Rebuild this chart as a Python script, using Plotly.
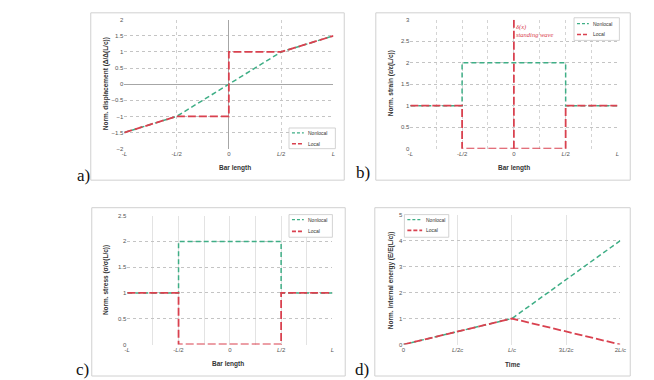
import plotly.graph_objects as go

W, H = 654, 380

# ---------------- data ----------------
# a) displacement
a_x_nonlocal = [-1, -0.5, 0.5, 1]
a_y_nonlocal = [-1.5, -1, 1, 1.5]
a_x_local = [-1, -0.5, 0, 0, 0.5, 1]
a_y_local = [-1.5, -1, -1, 1, 1, 1.5]
# b) strain
b_x_nonlocal = [-1, -0.5, -0.5, 0.5, 0.5, 1]
b_y_nonlocal = [1, 1, 2, 2, 1, 1]
b_x_local = [-1, -0.5, -0.5, 0.5, 0.5, 1]
b_y_local = [1, 1, 0, 0, 1, 1]
b_x_delta = [0, 0]
b_y_delta = [0, 3]
# c) stress
c_x_nonlocal = [-1, -0.5, -0.5, 0.5, 0.5, 1]
c_y_nonlocal = [1, 1, 2, 2, 1, 1]
c_x_local = [-1, -0.5, -0.5, 0.5, 0.5, 1]
c_y_local = [1, 1, 0, 0, 1, 1]
# d) energy (time in units of L/c)
d_x = [0, 1, 2]
d_y_nonlocal = [0, 1, 4]
d_y_local = [0, 1, 0]

bar_tickvals = [-1, -0.75, -0.5, -0.25, 0, 0.25, 0.5, 0.75, 1]
bar_ticktext = ["-<i>L</i>", "", "-<i>L</i>/2", "", "0", "", "<i>L</i>/2", "", "<i>L</i>"]
time_tickvals = [0, 0.5, 1, 1.5, 2]
time_ticktext = ["0", "<i>L</i>/2<i>c</i>", "<i>L</i>/<i>c</i>", "3<i>L</i>/2<i>c</i>", "2<i>L</i>/<i>c</i>"]

GREEN = "#3fae86"
RED = "#d9414f"
FONT = "Liberation Sans"

def px(x):
    return x / W

def py(y):
    return 1 - y / H

fig = go.Figure()

def nl(x, y, xa, ya):
    fig.add_trace(go.Scatter(x=x, y=y, xaxis=xa, yaxis=ya, mode="lines",
                             line=dict(color=GREEN, width=1.5, dash="5px,3px"),
                             name="Nonlocal", showlegend=False, hoverinfo="skip"))

def lo(x, y, xa, ya):
    fig.add_trace(go.Scatter(x=x, y=y, xaxis=xa, yaxis=ya, mode="lines",
                             line=dict(color=RED, width=1.8, dash="8px,3px"),
                             name="Local", showlegend=False, hoverinfo="skip"))

nl(a_x_nonlocal, a_y_nonlocal, "x", "y")
lo(a_x_local, a_y_local, "x", "y")
nl(b_x_nonlocal, b_y_nonlocal, "x2", "y2")
lo(b_x_local, b_y_local, "x2", "y2")
lo(b_x_delta, b_y_delta, "x2", "y2")
nl(c_x_nonlocal, c_y_nonlocal, "x3", "y3")
lo(c_x_local, c_y_local, "x3", "y3")
nl(d_x, d_y_nonlocal, "x4", "y4")
lo(d_x, d_y_local, "x4", "y4")

tickfont = dict(family=FONT, size=6, color="#555")

def xaxis(dom, rng, tv, tt, grid_dash, gcol, anchor, zeroline=False):
    return dict(domain=dom, range=rng, tickvals=tv, ticktext=tt, tickfont=tickfont,
                showgrid=True, gridcolor=gcol, gridwidth=1, griddash=grid_dash,
                zeroline=zeroline, zerolinecolor="#a6a6a6", zerolinewidth=1.2,
                showline=False, ticks="", anchor=anchor, fixedrange=True)

def yaxis(dom, rng, dt, anchor, zeroline=False):
    return dict(domain=dom, range=rng, dtick=dt, tick0=0, tickfont=tickfont,
                showgrid=True, gridcolor="#c4c4c4", gridwidth=1, griddash="dot",
                zeroline=zeroline, zerolinecolor="#a6a6a6", zerolinewidth=1.2,
                showline=False, ticks="", anchor=anchor, fixedrange=True,
                tickformat="~g")

# plot areas (pixel coords)
A = (123, 335, 17, 148)
B = (413, 623, 17, 148)
C = (126, 334, 216, 347)
D = (406, 626, 215, 347)

def dx(p):
    return [px(p[0]), px(p[1])]

def dy(p):
    return [py(p[3]), py(p[2])]

a_tv = [-1, -0.5, 0, 0.5, 1]
a_tt = ["-<i>L</i>", "-<i>L</i>/2", "0", "<i>L</i>/2", "<i>L</i>"]

fig.update_layout(
    width=W, height=H, margin=dict(l=0, r=0, t=0, b=0),
    paper_bgcolor="white", plot_bgcolor="white", showlegend=False,
    font=dict(family=FONT, color="#333"),
    xaxis=xaxis(dx(A), [-1, 1], a_tv, a_tt, "dot", "#cfcfcf", "y", zeroline=True),
    yaxis=yaxis(dy(A), [-2, 2], 0.5, "x", zeroline=True),
    xaxis2=xaxis(dx(B), [-1, 1], bar_tickvals, bar_ticktext, "dot", "#d4d4d4", "y2"),
    yaxis2=yaxis(dy(B), [0, 3], 0.5, "x2"),
    xaxis3=xaxis(dx(C), [-1, 1], bar_tickvals, bar_ticktext, "solid", "#e3e3e3", "y3"),
    yaxis3=yaxis(dy(C), [0, 2.5], 0.5, "x3"),
    xaxis4=xaxis(dx(D), [0, 2], time_tickvals, time_ticktext, "solid", "#e3e3e3", "y4"),
    yaxis4=yaxis(dy(D), [0, 5], 1, "x4"),
)

shapes = []
annotations = []

# panel frames
for (x0, y0, x1, y1) in [(89, 10, 346, 180), (378, 10, 636, 180),
                         (90, 208, 347, 379), (377, 208, 636, 379)]:
    shapes.append(dict(type="rect", xref="paper", yref="paper",
                       x0=px(x0), x1=px(x1), y0=py(y1), y1=py(y0),
                       line=dict(color="#d0d0d0", width=1), fillcolor="rgba(0,0,0,0)",
                       layer="below"))

# panel labels
for txt, x, y in [("a)", 82, 175), ("b)", 365, 172), ("c)", 81, 372), ("d)", 364, 372)]:
    annotations.append(dict(text=txt, x=px(x), y=py(y), xref="paper", yref="paper",
                            showarrow=False, font=dict(family="Liberation Serif", size=17, color="#111"),
                            xanchor="center", yanchor="middle"))

# axis titles
title_font = dict(family=FONT, size=6.5, color="#333")
for txt, x, y in [("<b>Bar length</b>", 235, 168), ("<b>Bar length</b>", 518, 168),
                  ("<b>Bar length</b>", 228, 367), ("<b>Time</b>", 517, 367)]:
    annotations.append(dict(text=txt, x=px(x), y=py(y), xref="paper", yref="paper",
                            showarrow=False, font=title_font, xanchor="center", yanchor="middle"))
for txt, x, y in [("<b>Norm. displacement (Δ/Δ(L/c))</b>", 104, 82),
                  ("<b>Norm. strain (ε/ε(L/c))</b>", 393, 82),
                  ("<b>Norm. stress (σ/σ(L/c))</b>", 104, 282),
                  ("<b>Norm. internal energy (E/E(L/c))</b>", 393, 282)]:
    annotations.append(dict(text=txt, x=px(x), y=py(y), xref="paper", yref="paper",
                            showarrow=False, font=title_font, textangle=-90,
                            xanchor="center", yanchor="middle"))

# delta annotation
annotations.append(dict(text="<i>δ(x)</i><br><i>standing wave</i>", x=px(518), y=py(28),
                        xref="paper", yref="paper", showarrow=False, align="left",
                        font=dict(family="Liberation Serif", size=6.5, color=RED),
                        xanchor="left", yanchor="middle"))

# legends (box, sample start/end, rows y, text x)
legends = [
    (290, 127, 337, 148, 293, 305, 132, 143, 307),
    (579, 15, 625, 38, 582, 594, 21, 32, 596),
    (290, 215, 334, 238, 293, 305, 220, 232, 307),
    (407, 215, 452, 238, 410, 425, 220, 231, 427),
]
for (bx0, by0, bx1, by1, sx0, sx1, r1, r2, tx) in legends:
    shapes.append(dict(type="rect", xref="paper", yref="paper",
                       x0=px(bx0), x1=px(bx1), y0=py(by1), y1=py(by0),
                       line=dict(color="#c8c8c8", width=0.8), fillcolor="white"))
    shapes.append(dict(type="line", xref="paper", yref="paper",
                       x0=px(sx0), x1=px(sx1), y0=py(r1), y1=py(r1),
                       line=dict(color=GREEN, width=1.2, dash="3px,2px")))
    shapes.append(dict(type="line", xref="paper", yref="paper",
                       x0=px(sx0), x1=px(sx1), y0=py(r2), y1=py(r2),
                       line=dict(color=RED, width=1.6, dash="4px,2px")))
    for txt, ry in [("Nonlocal", r1), ("Local", r2)]:
        annotations.append(dict(text=txt, x=px(tx), y=py(ry), xref="paper", yref="paper",
                                showarrow=False, font=dict(family=FONT, size=5, color="#333"),
                                xanchor="left", yanchor="middle"))

fig.update_layout(shapes=shapes, annotations=annotations)

fig.write_html("out.html")
